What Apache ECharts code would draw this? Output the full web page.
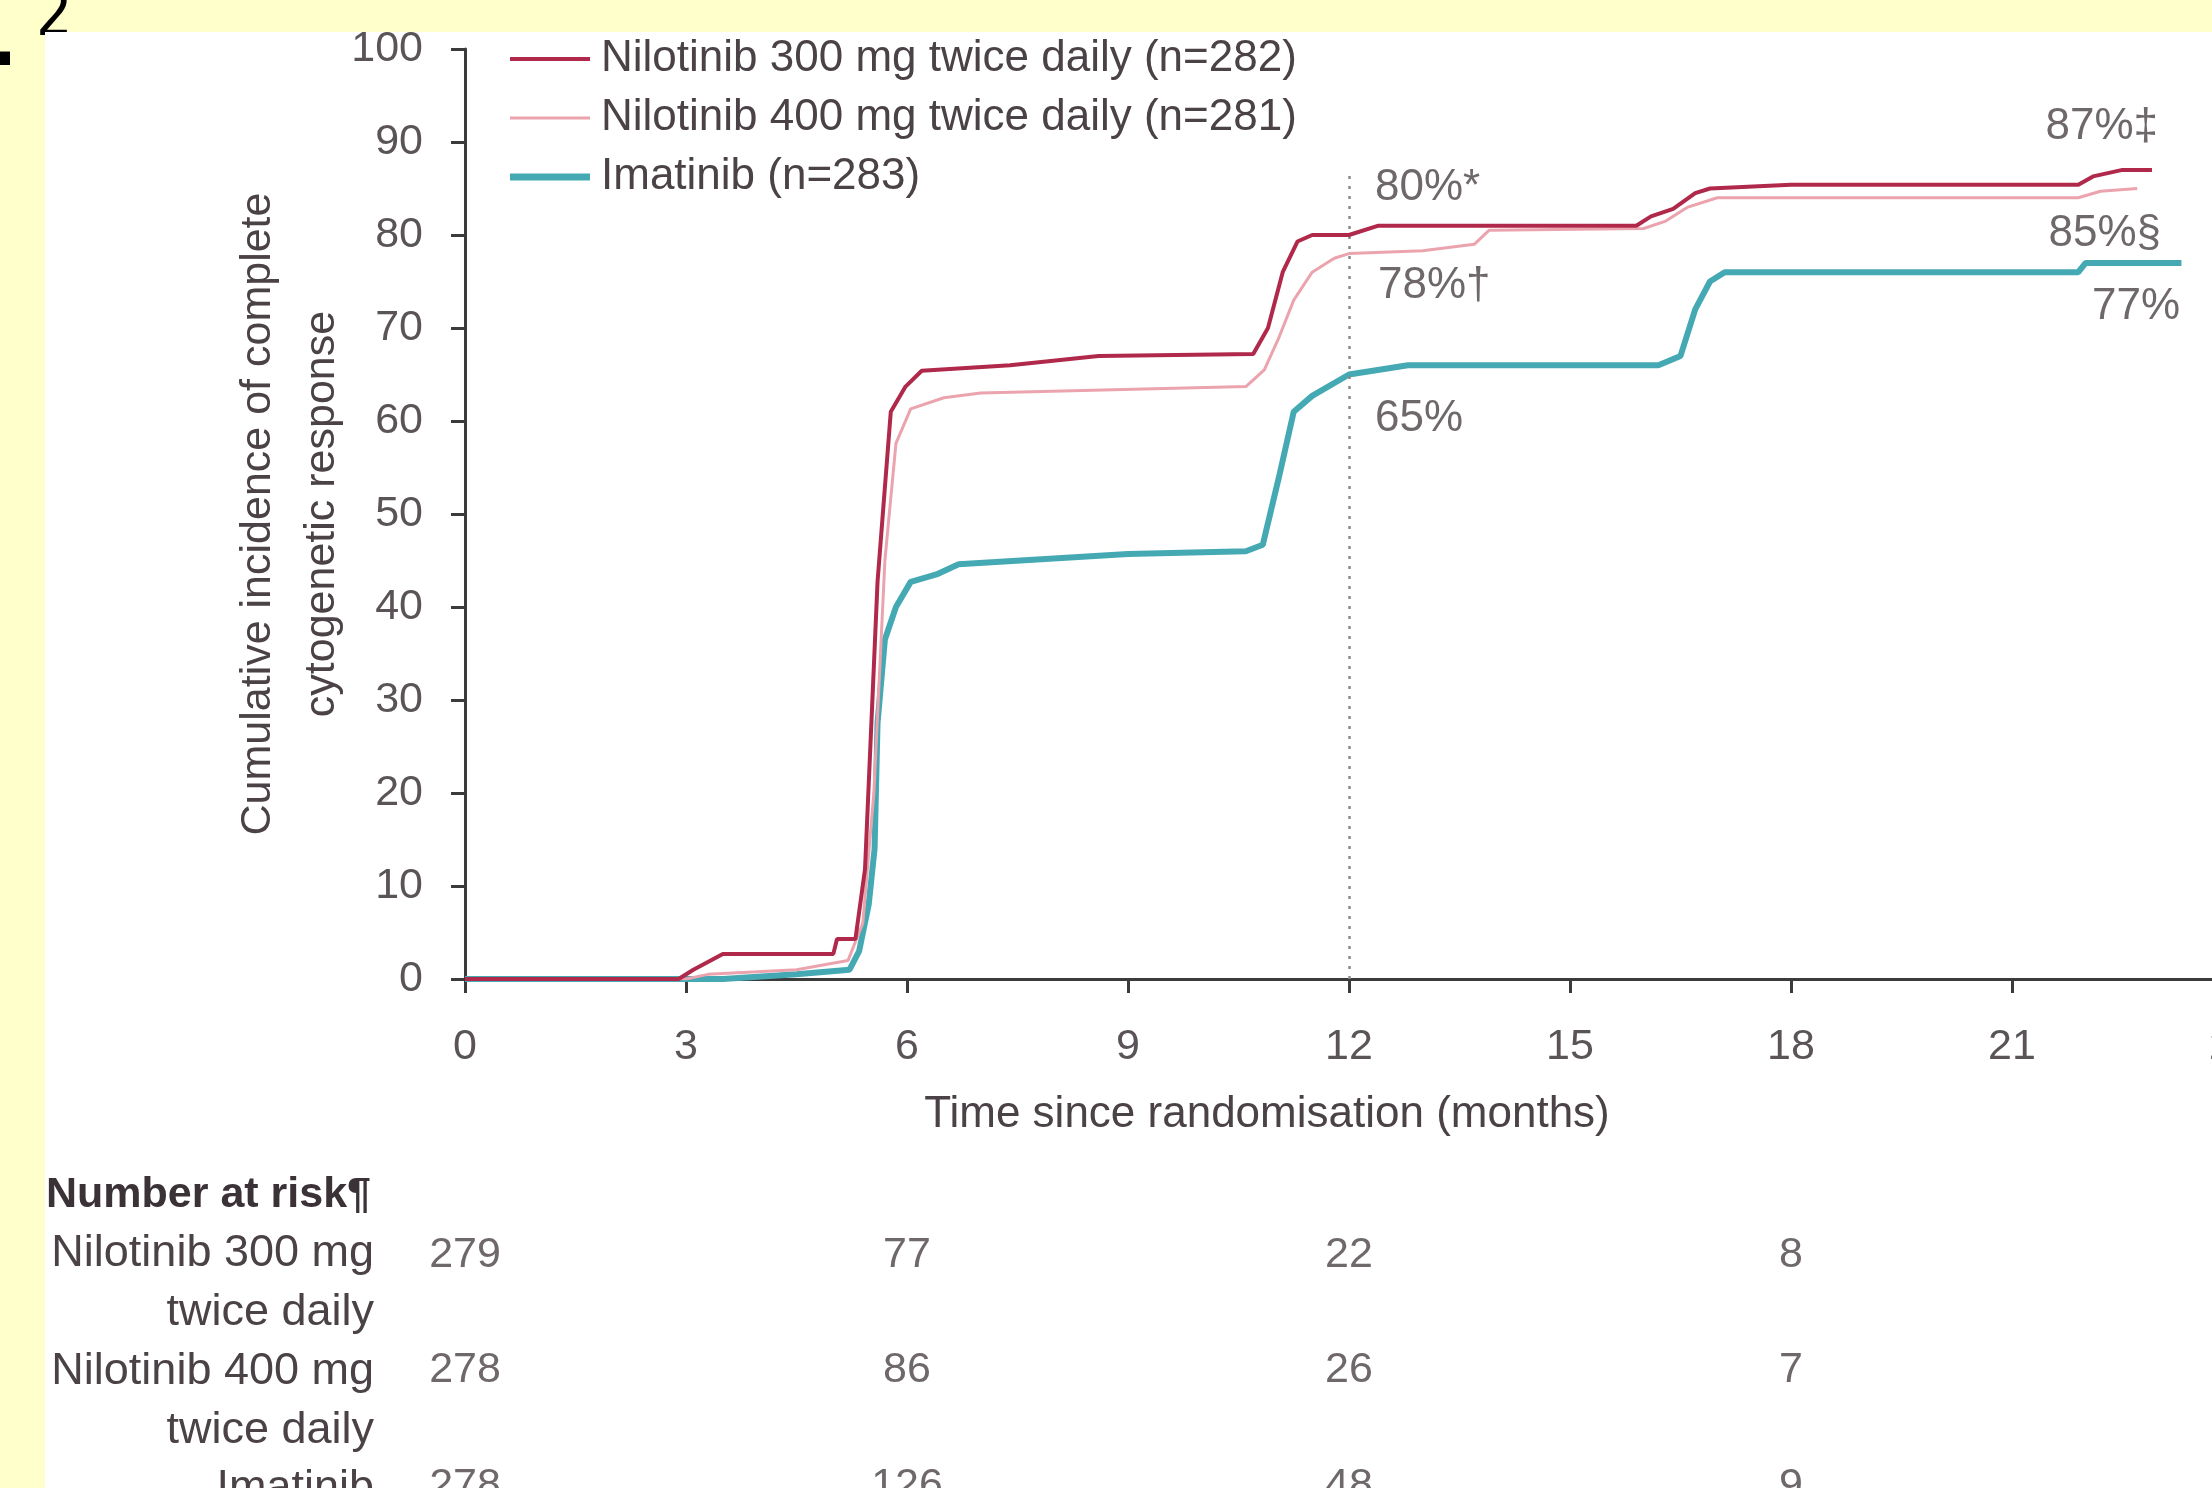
<!DOCTYPE html>
<html>
<head>
<meta charset="utf-8">
<script src="https://cdn.jsdelivr.net/npm/echarts@6/dist/echarts.min.js"></script>
<style>
  html, body { margin: 0; padding: 0; background: #FFFFCC; }
  #chart { width: 2212px; height: 1488px; }
</style>
</head>
<body>
<div id="chart"></div>
<script>
// Cumulative incidence of complete cytogenetic response (months since randomisation)
const months300 = [0, 2.9, 3.1, 3.5, 5.0, 5.05, 5.3, 5.43, 5.6, 5.78, 5.98, 6.2, 7.4, 8.6, 10.7, 10.9, 11.1, 11.3, 11.5, 12.0, 12.4, 15.9, 16.1, 16.4, 16.7, 16.9, 18.0, 21.9, 22.1, 22.5, 22.9];
const values300 = [0, 0, 1, 2.7, 2.7, 4.3, 4.3, 11.8, 42.7, 61, 63.7, 65.4, 66, 67, 67.2, 70, 76, 79.3, 80, 80, 81, 81, 82, 82.8, 84.5, 85, 85.4, 85.4, 86.3, 87, 87];

const months400 = [0, 3.0, 3.3, 4.5, 5.2, 5.4, 5.55, 5.7, 5.85, 6.05, 6.5, 7.0, 10.6, 10.85, 11.05, 11.25, 11.5, 11.8, 12.0, 13.0, 13.7, 13.9, 16.0, 16.3, 16.6, 17.0, 21.9, 22.2, 22.7];
const values400 = [0, 0, 0.5, 1, 2, 6, 20, 45, 57.6, 61.3, 62.5, 63, 63.7, 65.5, 69, 73, 76, 77.5, 78, 78.3, 79, 80.5, 80.7, 81.5, 83, 84, 84, 84.7, 85];

const monthsIma = [0, 3.5, 4.5, 5.22, 5.35, 5.48, 5.56, 5.6, 5.7, 5.85, 6.05, 6.4, 6.7, 9.0, 10.6, 10.83, 11.05, 11.25, 11.5, 12.0, 12.8, 16.2, 16.5, 16.7, 16.9, 17.1, 21.9, 22.0, 23.3];
const valuesIma = [0, 0, 0.5, 1, 3, 8, 14, 27.5, 36.5, 40, 42.7, 43.5, 44.6, 45.7, 46, 46.7, 54, 61, 62.7, 65, 66, 66, 67, 72, 75, 76, 76, 77, 77];

const seriesNames = ['Nilotinib 300 mg twice daily (n=282)', 'Nilotinib 400 mg twice daily (n=281)', 'Imatinib (n=283)'];

// Estimates printed at 12 and 24 months
const noteMonths = [12, 12, 12, 24, 24, 24];
const noteValues = [80, 78, 65, 87, 85, 77];
const noteTexts = ['80%*', '78%†', '65%', '87%‡', '85%§', '77%'];

// Number at risk
const riskMonths = [0, 6, 12, 18];
const risk300 = [279, 77, 22, 8];
const risk400 = [278, 86, 26, 7];
const riskIma = [278, 126, 48, 9];
const riskRowLabels = [['Nilotinib 300 mg', 'twice daily'], ['Nilotinib 400 mg', 'twice daily'], ['Imatinib']];

const FONT = '"Liberation Sans", Arial, sans-serif';
const TEXT = '#4a4246';
const AXIS = '#3b3b3b';
const COLORS = ['#b0284a', '#eba3ae', '#45a9b4'];

const zip = (xs, ys) => xs.map((x, i) => [x, ys[i]]);

const chart = echarts.init(document.getElementById('chart'));

// label placement for the printed estimates
const noteLayout = [
  { align: 'left', offset: [26, -47] },
  { align: 'left', offset: [29, 32] },
  { align: 'left', offset: [26, 44] },
  { align: 'right', offset: [-75, -43] },
  { align: 'right', offset: [-72, 45] },
  { align: 'right', offset: [-53, 44] }
];

const riskData = [];
[risk300, risk400, riskIma].forEach((row, r) => {
  row.forEach((n, i) => riskData.push([riskMonths[i], r, n]));
});

const graphics = [
  { type: 'text', left: 36, top: -14, z: -20, style: { text: '2', font: '64px "DejaVu Sans Condensed", "DejaVu Sans", sans-serif', fill: '#000' } },
  { type: 'text', left: -10, top: 10, z: -20, style: { text: '.', font: 'bold 72px "DejaVu Sans", sans-serif', fill: '#000' } },
  { type: 'rect', left: 45, top: 32, z: -10, shape: { width: 2167, height: 1456 }, style: { fill: '#ffffff' } },
  { type: 'text', left: 46, top: 1199 - 25, style: { text: 'Number at risk¶', font: 'bold 43px ' + FONT, fill: '#3a3236' } }
];
const rowY = [1256, 1374, 1491];
riskRowLabels.forEach((lines, r) => {
  lines.forEach((t, k) => {
    graphics.push({
      type: 'text', right: 2212 - 374, top: rowY[r] - 25 + k * 59,
      style: { text: t, font: '45px ' + FONT, fill: TEXT, align: 'right' }
    });
  });
});

// legend swatches: plain strokes with each series' line weight
const swatch = h => 'path://M0,0H80V' + h + 'H0Z';

chart.setOption({
  backgroundColor: '#FFFFCC',
  animation: false,
  graphic: graphics,
  legend: {
    orient: 'vertical',
    left: 505,
    top: 32,
    itemWidth: 80,
    itemHeight: 20,
    itemGap: 15,
    symbolKeepAspect: true,
    data: [
      { name: seriesNames[0], icon: swatch(4) },
      { name: seriesNames[1], icon: swatch(3) },
      { name: seriesNames[2], icon: swatch(7) }
    ],
    textStyle: { fontSize: 44, color: TEXT, fontFamily: FONT, padding: [0, 0, 0, 6] }
  },
  grid: [
    { left: 465, width: 1768, top: 49, height: 930, outerBoundsMode: 'none', containLabel: false },
    { left: 465, width: 1768, top: 1255, height: 231, outerBoundsMode: 'none', containLabel: false }
  ],
  xAxis: [
    {
      type: 'value', gridIndex: 0, min: 0, max: 24, interval: 3,
      axisLine: { lineStyle: { color: AXIS, width: 3 } },
      axisTick: { length: 14, lineStyle: { color: AXIS, width: 3 } },
      axisLabel: { fontSize: 43, color: '#5a5458', fontFamily: FONT, margin: 47 },
      splitLine: { show: false },
      name: 'Time since randomisation (months)',
      nameLocation: 'middle', nameGap: 114,
      nameTextStyle: { fontSize: 44, color: TEXT, fontFamily: FONT, padding: [0, 164, 0, 0] }
    },
    { type: 'value', gridIndex: 1, min: 0, max: 24, show: false }
  ],
  yAxis: [
    {
      type: 'value', gridIndex: 0, min: 0, max: 100, interval: 10,
      axisLine: { show: true, lineStyle: { color: AXIS, width: 3 } },
      axisTick: { show: true, length: 14, lineStyle: { color: AXIS, width: 3 } },
      axisLabel: { fontSize: 43, color: '#5a5458', fontFamily: FONT, margin: 42 },
      splitLine: { show: false },
      name: 'Cumulative incidence of complete\ncytogenetic response',
      nameLocation: 'middle', nameGap: 111, nameRotate: 90, nameMoveOverlap: false,
      nameTextStyle: { fontSize: 43, lineHeight: 64, color: TEXT, fontFamily: FONT }
    },
    { type: 'value', gridIndex: 1, min: 0, max: 2, inverse: true, show: false }
  ],
  series: [
    {
      name: seriesNames[2], type: 'line', data: zip(monthsIma, valuesIma),
      symbol: 'none', z: 3,
      lineStyle: { color: COLORS[2], width: 6 }, itemStyle: { color: COLORS[2] }
    },
    {
      name: seriesNames[1], type: 'line', data: zip(months400, values400),
      symbol: 'none', z: 4,
      lineStyle: { color: COLORS[1], width: 3 }, itemStyle: { color: COLORS[1] }
    },
    {
      name: seriesNames[0], type: 'line', data: zip(months300, values300),
      symbol: 'none', z: 5,
      lineStyle: { color: COLORS[0], width: 4 }, itemStyle: { color: COLORS[0] },
      markLine: {
        silent: true, symbol: 'none', label: { show: false },
        lineStyle: { color: '#8a8a8a', width: 2.5, type: [3, 7] },
        data: [[{ coord: [12, 0] }, { coord: [12, 87] }]]
      }
    },
    {
      name: 'estimates', type: 'scatter', symbolSize: 0, z: 6,
      data: noteMonths.map((m, i) => ({
        value: [m, noteValues[i]],
        label: {
          show: true, position: 'inside', formatter: noteTexts[i],
          align: noteLayout[i].align, verticalAlign: 'middle', offset: noteLayout[i].offset,
          fontSize: 44, color: TEXT, fontFamily: FONT
        }
      }))
    },
    {
      name: 'at risk', type: 'scatter', xAxisIndex: 1, yAxisIndex: 1, symbolSize: 0,
      data: riskData,
      label: {
        show: true, position: 'inside', formatter: p => String(p.value[2]),
        fontSize: 43, color: TEXT, fontFamily: FONT
      }
    }
  ]
});
</script>
</body>
</html>
